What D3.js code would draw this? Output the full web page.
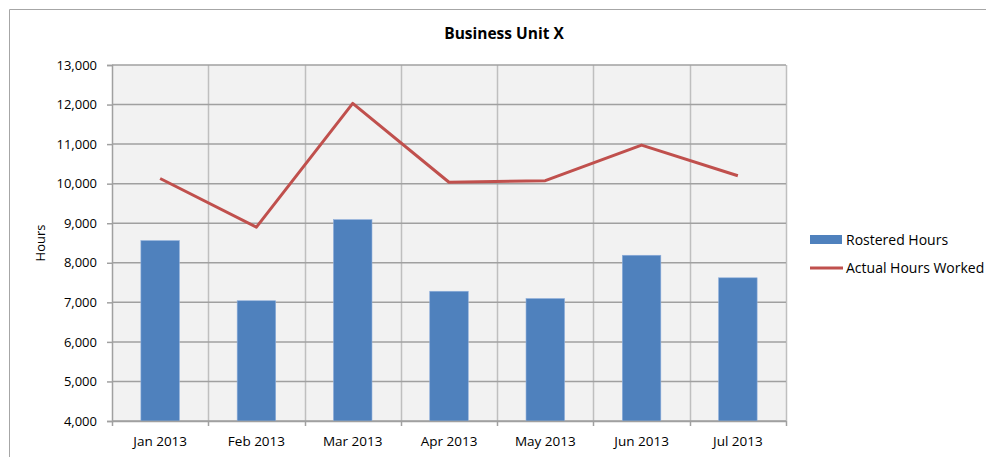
<!DOCTYPE html>
<html>
<head>
<meta charset="utf-8">
<script src="https://cdn.jsdelivr.net/npm/d3@7"></script>
<style>
  body { margin: 0; background: #fff; }
  svg text { font-family: "Open Sans", "Liberation Sans", sans-serif; fill: #000; }
</style>
</head>
<body>
<div id="chart"></div>
<script>
const months = ["Jan 2013", "Feb 2013", "Mar 2013", "Apr 2013", "May 2013", "Jun 2013", "Jul 2013"];
const rostered = [8560, 7040, 9090, 7280, 7095, 8190, 7620];
const actual = [10130, 8900, 12030, 10035, 10075, 10975, 10200];
const yTicks = [4000, 5000, 6000, 7000, 8000, 9000, 10000, 11000, 12000, 13000];

const W = 986, H = 457;
const plot = { left: 112, top: 65, right: 786, bottom: 421 };

const svg = d3.select("#chart")
  .append("svg")
  .attr("width", W)
  .attr("height", H);

// chart frame (only top/left edges visible in the crop)
svg.append("path")
  .attr("d", `M9.5,${H} V9.5 H${W}`)
  .attr("fill", "none")
  .attr("stroke", "#a6a6a6")
  .attr("stroke-width", 1);

const x = d3.scaleBand()
  .domain(months)
  .range([plot.left, plot.right]);

const y = d3.scaleLinear()
  .domain([4000, 13000])
  .range([plot.bottom, plot.top]);

// plot background
svg.append("rect")
  .attr("x", plot.left)
  .attr("y", plot.top)
  .attr("width", plot.right - plot.left)
  .attr("height", plot.bottom - plot.top)
  .attr("fill", "#f2f2f2");

// vertical gridlines at category boundaries
const bounds = months.map(m => x(m)).concat([plot.right]);
svg.append("g")
  .selectAll("line")
  .data(bounds.slice(1))
  .enter()
  .append("line")
  .attr("x1", d => Math.round(d) + 0.5)
  .attr("x2", d => Math.round(d) + 0.5)
  .attr("y1", plot.top)
  .attr("y2", plot.bottom)
  .attr("stroke", "#bfbfbf")
  .attr("stroke-width", 1.5);

// horizontal gridlines
svg.append("g")
  .selectAll("line")
  .data(yTicks)
  .enter()
  .append("line")
  .attr("x1", plot.left)
  .attr("x2", plot.right)
  .attr("y1", d => y(d))
  .attr("y2", d => y(d))
  .attr("stroke", "#a0a0a0")
  .attr("stroke-width", 1.5);

// bars
const barW = x.bandwidth() * 0.4;
svg.append("g")
  .selectAll("rect")
  .data(rostered)
  .enter()
  .append("rect")
  .attr("x", (d, i) => x(months[i]) + (x.bandwidth() - barW) / 2)
  .attr("y", d => y(d))
  .attr("width", barW)
  .attr("height", d => y(4000) - y(d))
  .attr("fill", "#4f81bd")
  .attr("stroke", "#8eaedb")
  .attr("stroke-width", 0.6);

// y axis
const yAxis = svg.append("g")
  .attr("transform", `translate(${plot.left},0)`)
  .call(d3.axisLeft(y).tickValues(yTicks).tickFormat(d3.format(",")).tickSize(5).tickPadding(10));
yAxis.select(".domain").attr("stroke", "#a0a0a0").attr("stroke-width", 1.5);
yAxis.selectAll(".tick line").attr("stroke", "#a0a0a0").attr("stroke-width", 1.5);
yAxis.selectAll("text").style("font-size", "13px").attr("fill", "#000");

// x axis
const xAxis = svg.append("g")
  .attr("transform", `translate(0,${plot.bottom})`)
  .call(d3.axisBottom(x).tickSize(0).tickPadding(15));
xAxis.select(".domain").attr("stroke", "#a0a0a0").attr("stroke-width", 1.5);
xAxis.selectAll("text").style("font-size", "13.5px").attr("fill", "#000");
svg.append("g")
  .selectAll("line")
  .data(bounds)
  .enter()
  .append("line")
  .attr("x1", d => Math.round(d) + 0.5)
  .attr("x2", d => Math.round(d) + 0.5)
  .attr("y1", plot.bottom)
  .attr("y2", plot.bottom + 5)
  .attr("stroke", "#a0a0a0")
  .attr("stroke-width", 1.5);

// actual hours line
const line = d3.line()
  .x((d, i) => x(months[i]) + x.bandwidth() / 2)
  .y(d => y(d));

svg.append("path")
  .datum(actual)
  .attr("d", line)
  .attr("fill", "none")
  .attr("stroke", "#c0504d")
  .attr("stroke-width", 3)
  .attr("stroke-linejoin", "round");

// title
svg.append("text")
  .attr("x", 504)
  .attr("y", 39)
  .attr("text-anchor", "middle")
  .style("font-size", "15.5px")
  .style("font-weight", "bold")
  .text("Business Unit X");

// y label
svg.append("text")
  .attr("transform", `translate(45,${(plot.top + plot.bottom) / 2}) rotate(-90)`)
  .attr("text-anchor", "middle")
  .style("font-size", "13px")
  .text("Hours");

// legend
const legend = svg.append("g");
legend.append("rect")
  .attr("x", 810)
  .attr("y", 235)
  .attr("width", 32)
  .attr("height", 9)
  .attr("fill", "#4f81bd");
legend.append("text")
  .attr("x", 846)
  .attr("y", 245)
  .style("font-size", "14px")
  .text("Rostered Hours");
legend.append("line")
  .attr("x1", 810)
  .attr("x2", 843)
  .attr("y1", 268)
  .attr("y2", 268)
  .attr("stroke", "#c0504d")
  .attr("stroke-width", 3);
legend.append("text")
  .attr("x", 846)
  .attr("y", 273)
  .style("font-size", "14px")
  .text("Actual Hours Worked");
</script>
</body>
</html>
